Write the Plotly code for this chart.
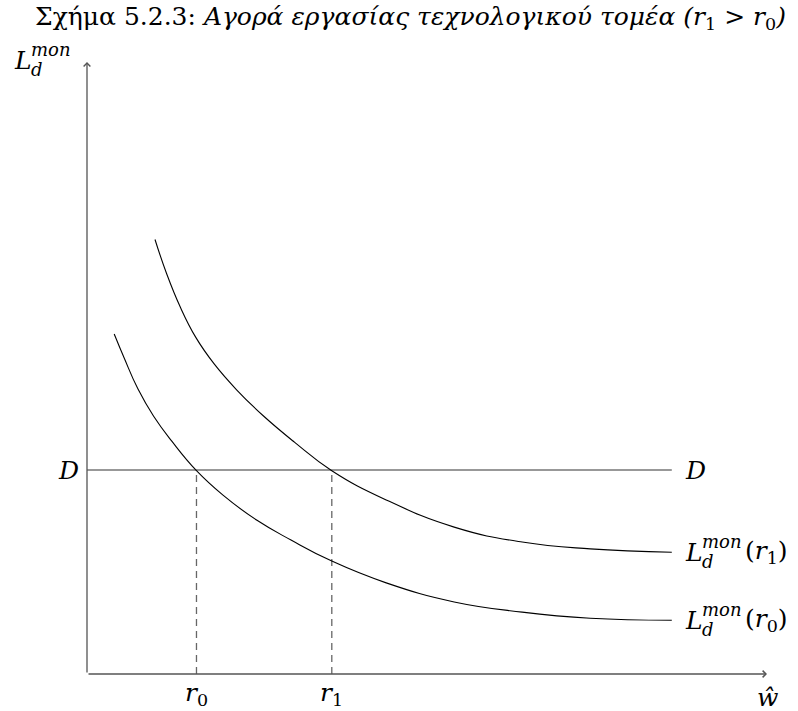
import plotly.graph_objects as go

# values (wage on x, labour demand on y)
w_r0 = [0.40, 0.55, 0.75, 0.98, 1.25, 1.61, 2.00, 2.50, 3.00, 3.60, 4.40, 5.40, 6.40, 7.40, 8.60]
L_r0 = [5.00, 4.64, 4.19, 3.79, 3.42, 2.99, 2.63, 2.26, 1.97, 1.66, 1.34, 1.06, 0.91, 0.82, 0.79]

w_r1 = [1.00, 1.17, 1.37, 1.60, 1.87, 2.20, 2.60, 3.05, 3.60, 4.40, 5.40, 6.40, 7.40, 8.60]
L_r1 = [6.39, 5.89, 5.40, 4.95, 4.56, 4.18, 3.79, 3.41, 2.99, 2.56, 2.16, 1.94, 1.84, 1.79]

D_level = 3.0
r_values = [1.61, 3.60]
r_labels = ["<i>r</i><sub>0</sub>", "<i>r</i><sub>1</sub>"]
curve_tails = ["(<i>r</i><sub>0</sub>)", "(<i>r</i><sub>1</sub>)"]
w_max = 10
L_max = 9

TITLE = ("Σχήμα 5.2.3: <i>Αγορά εργασίας τεχνολογικού τομέα (r</i><sub>1</sub>"
         "<i> &gt; r</i><sub>0</sub><i>)</i>")

FONT = "DejaVu Serif"
BIG = 25
SMALL = 18


def label_parts(x, y, xshift, yshift, tail=""):
    """L with stacked d / mon, optionally followed by a tail like (r1)"""
    parts = [
        dict(text="<i>L</i>", size=BIG, dx=0, dy=0),
        dict(text="<i>mon</i>", size=SMALL, dx=17, dy=11),
        dict(text="<i>d</i>", size=SMALL, dx=17, dy=-9),
    ]
    if tail:
        parts.append(dict(text=tail, size=BIG, dx=60, dy=0))
    out = []
    for p in parts:
        out.append(dict(
            x=x, y=y, xref="x", yref="y", text=p["text"], showarrow=False,
            xanchor="left", yanchor="middle",
            xshift=xshift + p["dx"], yshift=yshift + p["dy"],
            font=dict(family=FONT, size=p["size"], color="black"),
        ))
    return out


fig = go.Figure()

# horizontal D line
fig.add_trace(go.Scatter(
    x=[0, w_r0[-1]], y=[D_level, D_level], mode="lines",
    line=dict(color="#333333", width=1.2), hoverinfo="skip"
))

# dashed drop lines
for r in r_values:
    fig.add_trace(go.Scatter(
        x=[r, r], y=[0, D_level], mode="lines",
        line=dict(color="#666666", width=1.3, dash="7px,5px"), hoverinfo="skip"
    ))

# demand curves
for w, L in [(w_r0, L_r0), (w_r1, L_r1)]:
    fig.add_trace(go.Scatter(
        x=w, y=L, mode="lines", line_shape="spline",
        line=dict(color="black", width=1.1, smoothing=1.3), hoverinfo="skip"
    ))

annotations = []

# axes with arrow heads
for tip, tail in [((w_max, 0), (0, 0)), ((0, L_max), (0, 0))]:
    annotations.append(dict(
        x=tip[0], y=tip[1], ax=tail[0], ay=tail[1],
        xref="x", yref="y", axref="x", ayref="y", text="",
        showarrow=True, arrowhead=4, arrowsize=1.0, arrowwidth=1.3,
        arrowcolor="#555555", standoff=0,
    ))

# D labels
annotations.append(dict(x=0, y=D_level, xref="x", yref="y", text="<i>D</i>",
                        showarrow=False, xanchor="right", yanchor="middle", xshift=-6,
                        font=dict(family=FONT, size=BIG, color="black")))
annotations.append(dict(x=w_r0[-1], y=D_level, xref="x", yref="y", text="<i>D</i>",
                        showarrow=False, xanchor="left", yanchor="middle", xshift=11,
                        font=dict(family=FONT, size=BIG, color="black")))

# r tick labels
for r, lab in zip(r_values, r_labels):
    annotations.append(dict(x=r, y=0, xref="x", yref="y", text=lab,
                            showarrow=False, xanchor="center", yanchor="top", yshift=-2,
                            font=dict(family=FONT, size=BIG, color="black")))

# w hat label
annotations.append(dict(x=w_max, y=0, xref="x", yref="y", text="<i>ŵ</i>",
                        showarrow=False, xanchor="center", yanchor="top", yshift=-7,
                        font=dict(family=FONT, size=BIG, color="black")))

# curve labels
annotations += label_parts(w_r0[-1], L_r0[-1], 11, 0, curve_tails[0])
annotations += label_parts(w_r1[-1], L_r1[-1], 11, 0, curve_tails[1])

# y axis label
annotations += label_parts(0, L_max, -75, 2)

# title, left aligned to where the reference starts it
annotations.append(dict(x=0, y=1, xref="paper", yref="paper", text=TITLE,
                        showarrow=False, xanchor="left", yanchor="middle",
                        xshift=-54, yshift=44,
                        font=dict(family=FONT, size=25, color="black")))

fig.update_layout(
    width=798, height=711, autosize=False,
    margin=dict(l=87, r=31, t=62, b=37),
    showlegend=False,
    plot_bgcolor="white", paper_bgcolor="white",
    xaxis=dict(range=[0, w_max], visible=False, fixedrange=True),
    yaxis=dict(range=[0, L_max], visible=False, fixedrange=True),
    annotations=annotations,
)

fig.write_html(
    "out.html",
    config={"displayModeBar": False},
    post_script="document.body.style.margin='0';document.body.style.overflow='hidden';",
)
